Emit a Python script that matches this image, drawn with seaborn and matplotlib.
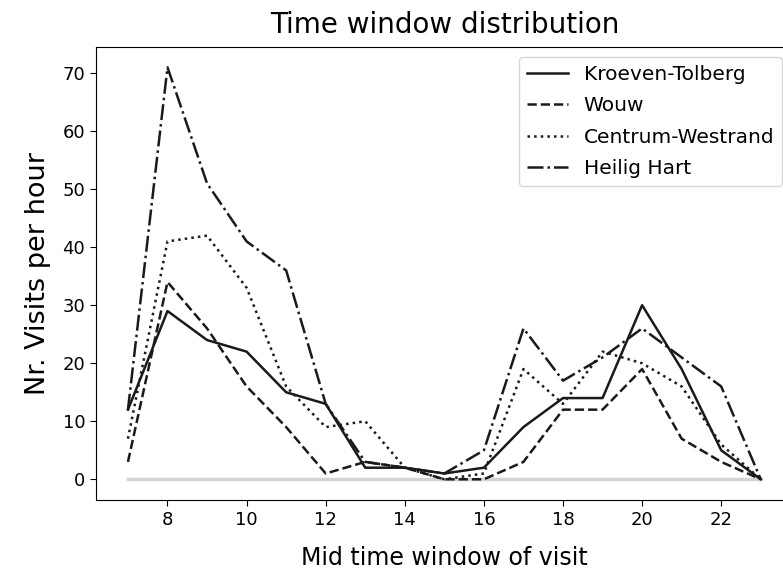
import seaborn as sns
import matplotlib.pyplot as plt
import pandas as pd
import numpy as np

hours = list(range(7, 24))

kroeven = [12, 29, 24, 22, 15, 13, 2, 2, 1, 2, 9, 14, 14, 30, 19, 5, 0]
wouw = [3, 34, 26, 16, 9, 1, 3, 2, 0, 0, 3, 12, 12, 19, 7, 3, 0]
centrum = [7, 41, 42, 33, 16, 9, 10, 2, 0, 1, 19, 13, 22, 20, 16, 6, 0]
heilig = [12, 71, 51, 41, 36, 13, 3, 2, 1, 5, 26, 17, 21, 26, 21, 16, 0]

names = ["Kroeven-Tolberg", "Wouw", "Centrum-Westrand", "Heilig Hart"]
series = [kroeven, wouw, centrum, heilig]

rows = []
for name, vals in zip(names, series):
    for h, v in zip(hours, vals):
        rows.append({"hour": h, "visits": v, "district": name})
df = pd.DataFrame(rows)

fig = plt.figure(figsize=(7.83, 5.70), dpi=100)
ax = fig.add_axes([0.123, 0.123, 0.889, 0.795])

# baseline at zero
ax.plot([hours[0], hours[-1]], [0, 0], color="lightgrey", lw=2.5, zorder=1)

dash_styles = {
    "Kroeven-Tolberg": "",
    "Wouw": (3.7, 1.6),
    "Centrum-Westrand": (1, 1.65),
    "Heilig Hart": (6.4, 1.6, 1, 1.6),
}
sns.lineplot(data=df, x="hour", y="visits", style="district", dashes=dash_styles,
             color="#1a1a1a", lw=1.8, ax=ax, legend=True, zorder=2)

ax.set_xticks([8, 10, 12, 14, 16, 18, 20, 22])
ax.tick_params(labelsize=13, length=4.5)
ax.set_title("Time window distribution", fontsize=20, pad=10)
ax.set_xlabel("Mid time window of visit", fontsize=17, labelpad=12)
ax.set_ylabel("Nr. Visits per hour", fontsize=19.5, labelpad=8)

leg = ax.legend(loc="upper right", fontsize=14.5, handlelength=2.0,
                labelspacing=0.62)

fig.savefig("out.png", dpi=100)
